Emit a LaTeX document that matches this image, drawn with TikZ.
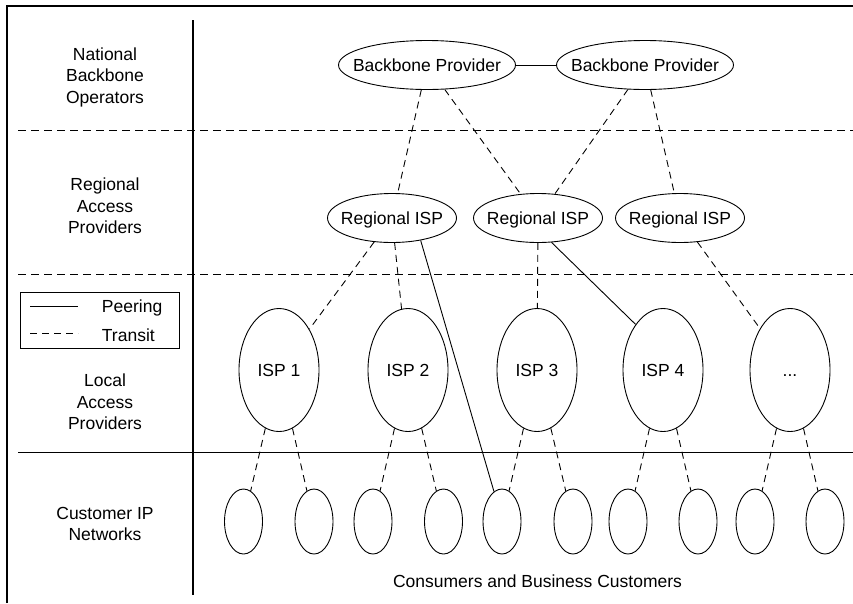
\documentclass[tikz,border=0pt]{standalone}
\usepackage{fontspec}
\setmainfont{Liberation Sans}
\usetikzlibrary{shapes.geometric}
\newcommand{\zb}[1]{\makebox[0pt]{#1}}
\begin{document}
\begin{tikzpicture}[x=1pt,y=-1pt,
  font=\fontsize{17.5}{21.5}\selectfont, line width=0.9pt,
  ell/.style={ellipse, draw, inner sep=0pt, text height=12.5pt, text depth=0pt},
  bb/.style={ell, minimum width=177pt, minimum height=49pt},
  rg/.style={ell, minimum width=129pt, minimum height=49pt},
  isp/.style={ell, minimum width=80pt, minimum height=123pt},
  cu/.style={ell, minimum width=38pt, minimum height=65pt},
  tr/.style={dash pattern=on 7pt off 5pt},
  sep/.style={dash pattern=on 8pt off 5pt},
  frm/.style={line width=1.2pt},
  lbl/.style={align=center, inner sep=0pt}]
\useasboundingbox (0,0) rectangle (853,603);
% frame and separators
\draw[frm] (7,603) -- (7,6) -- (853,6);
\draw[frm] (193,20) -- (193,595);
\draw[sep] (18,130.5) -- (853,130.5);
\draw[sep] (18,274) -- (853,274);
\draw[frm] (18,452.5) -- (853,452.5);
% left labels
\node[lbl] (l1) at (105,77) {National\\Backbone\\Operators};
\node[lbl] (l2) at (105,206) {Regional\\Access\\Providers};
\node[lbl] (l3) at (105,402) {Local\\Access\\Providers};
\node[lbl] (l4) at (105,524) {Customer IP\\Networks};
% legend
\node[draw, minimum width=159pt, minimum height=56pt, inner sep=0pt] (lg) at (99.5,320) {};
\coordinate (p1) at (30,306); \coordinate (p2) at (78,306);
\coordinate (t1) at (30,333); \coordinate (t2) at (78,333);
\draw (p1) -- (p2);
\draw[tr] (t1) -- (t2);
\node[inner sep=0pt, anchor=base west] (lp) at (101.5,312.5) {Peering};
\node[inner sep=0pt, anchor=base west] (lt) at (101.5,341) {Transit};
% backbone
\node[bb] (bp1) at (427,65) {\zb{Backbone Provider}};
\node[bb] (bp2) at (645,65) {\zb{Backbone Provider}};
% regional
\node[rg] (r1) at (392,218) {\zb{Regional ISP}};
\node[rg] (r2) at (538,218) {\zb{Regional ISP}};
\node[rg] (r3) at (680,218) {\zb{Regional ISP}};
% local ISPs
\node[isp] (i1) at (279,370) {\zb{ISP 1}};
\node[isp] (i2) at (408,370) {\zb{ISP 2}};
\node[isp] (i3) at (537,370) {\zb{ISP 3}};
\node[isp] (i4) at (663,370) {\zb{ISP 4}};
\node[isp] (i5) at (790,370) {\zb{...}};
% customers
\foreach \n/\x in {1/243.5,2/314,3/373,4/443.5,5/502,6/573,7/628,8/698,9/755,10/825}
  \node[cu] (c\n) at (\x,521.5) {};
\node[inner sep=0pt] (cb) at (537.5,581) {Consumers and Business Customers};
% connectors
\draw (bp1) -- (bp2);
\draw[tr] (bp1) -- (r1);
\draw[tr] (bp1) -- (r2);
\draw[tr] (bp2) -- (r2);
\draw[tr] (bp2) -- (r3);
\draw[tr] (r1) -- (i1);
\draw[tr] (r1) -- (i2);
\draw[tr] (r2) -- (i3);
\draw[tr] (r3) -- (i5);
\draw (r2.-61) -- (i4.121);
\draw (r1.-38) -- (c5.105);
\draw[tr] (i1) -- (c1); \draw[tr] (i1) -- (c2);
\draw[tr] (i2) -- (c3); \draw[tr] (i2) -- (c4);
\draw[tr] (i3) -- (c5); \draw[tr] (i3) -- (c6);
\draw[tr] (i4) -- (c7); \draw[tr] (i4) -- (c8);
\draw[tr] (i5) -- (c9); \draw[tr] (i5) -- (c10);
\end{tikzpicture}
\end{document}
